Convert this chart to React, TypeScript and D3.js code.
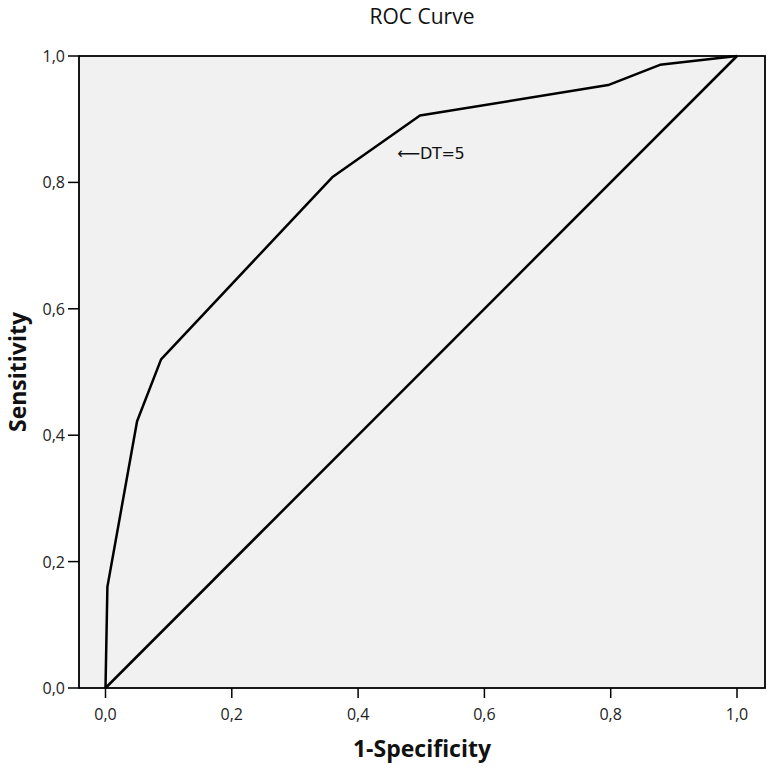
import React from "react";
import * as d3 from "d3";

// ROC curve points
const fpr = [0, 0.003, 0.05, 0.088, 0.359, 0.498, 0.796, 0.878, 1];
const tpr = [0, 0.16, 0.422, 0.52, 0.808, 0.906, 0.954, 0.986, 1];
const ticks = [0, 0.2, 0.4, 0.6, 0.8, 1];
const note = { x: 0.462, y: 0.846, text: "\u27F5DT=5" };

const W = 771;
const H = 772;
const frame = { left: 79, right: 765, top: 56, bottom: 688 };
const fmt = (v: number) => d3.format(".1f")(v).replace(".", ",");

const App = () => {
  const x = d3.scaleLinear().domain([0, 1]).range([105.5, 737]);
  const y = d3.scaleLinear().domain([0, 1]).range([frame.bottom, frame.top]);
  const pts: [number, number][] = fpr.map((d, i) => [d, tpr[i]]);
  const line = d3
    .line<[number, number]>()
    .x((d) => x(d[0]))
    .y((d) => y(d[1]));
  const font = "'Open Sans', 'DejaVu Sans', sans-serif";

  return (
    <svg
      width={W}
      height={H}
      style={{ position: "absolute", left: 0, top: 0, background: "#fff" }}
      fontFamily={font}
    >
      <rect
        x={frame.left}
        y={frame.top}
        width={frame.right - frame.left}
        height={frame.bottom - frame.top}
        fill="#f1f1f1"
        stroke="#000"
        strokeWidth={1.8}
      />
      <text x={422} y={24} textAnchor="middle" fontSize={21} fill="#111">
        ROC Curve
      </text>

      {/* reference diagonal */}
      <path
        d={line([[0, 0], [1, 1]]) ?? ""}
        fill="none"
        stroke="#000"
        strokeWidth={2.5}
      />
      {/* ROC curve */}
      <path
        d={line(pts) ?? ""}
        fill="none"
        stroke="#000"
        strokeWidth={2.5}
        strokeLinejoin="round"
      />
      <text
        x={x(note.x)}
        y={y(note.y) + 6}
        fontSize={16}
        fill="#111"
        fontFamily="'DejaVu Sans', sans-serif"
        letterSpacing={-0.3}
      >
        {note.text}
      </text>

      {/* y axis */}
      {ticks.map((t) => (
        <g key={"y" + t}>
          <line x1={68} x2={frame.left} y1={y(t)} y2={y(t)} stroke="#000" strokeWidth={1.5} />
          <text x={65} y={y(t) + 6} textAnchor="end" fontSize={16} fill="#222">
            {fmt(t)}
          </text>
        </g>
      ))}
      {/* x axis */}
      {ticks.map((t) => (
        <g key={"x" + t}>
          <line x1={x(t)} x2={x(t)} y1={frame.bottom} y2={frame.bottom + 10} stroke="#000" strokeWidth={1.5} />
          <text x={x(t)} y={frame.bottom + 32} textAnchor="middle" fontSize={16} fill="#222">
            {fmt(t)}
          </text>
        </g>
      ))}

      <text
        x={422}
        y={757}
        textAnchor="middle"
        fontSize={23}
        fontWeight="bold"
        fill="#111"
      >
        1-Specificity
      </text>
      <text
        transform={`translate(26,${(frame.top + frame.bottom) / 2}) rotate(-90)`}
        textAnchor="middle"
        fontSize={23}
        fontWeight="bold"
        fill="#111"
      >
        Sensitivity
      </text>
    </svg>
  );
};

export default App;
